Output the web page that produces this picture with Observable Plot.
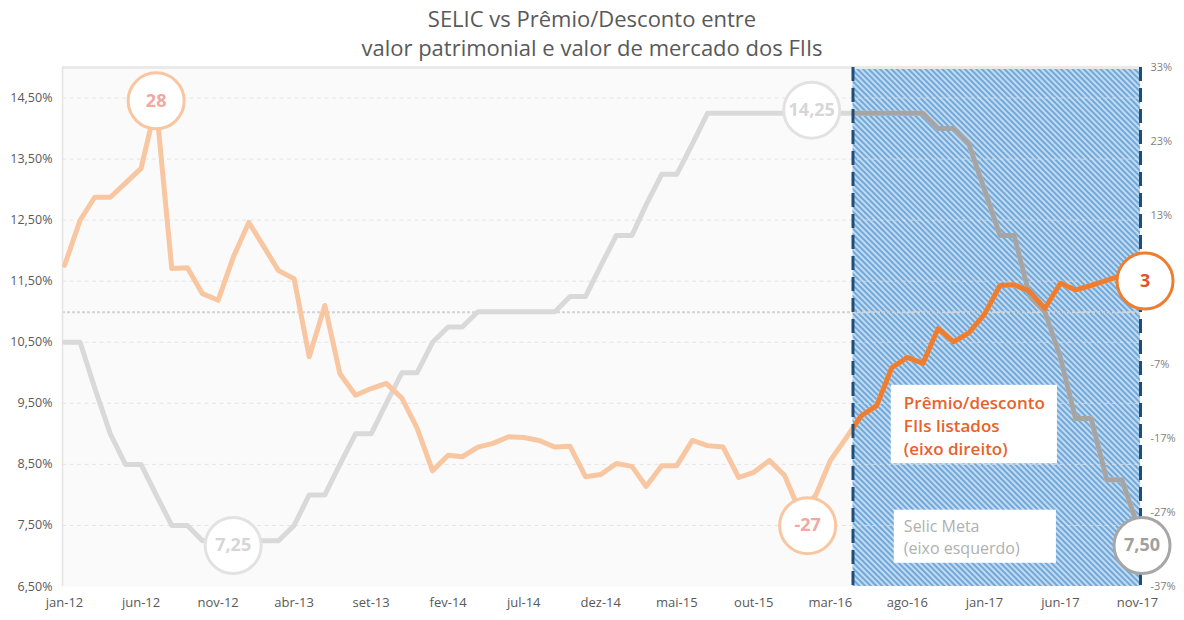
<!DOCTYPE html>
<html><head><meta charset="utf-8">
<script src="https://cdn.jsdelivr.net/npm/d3@7"></script>
<script src="https://cdn.jsdelivr.net/npm/@observablehq/plot@0.6"></script>
<style>
body{margin:0;background:#fff;font-family:"Open Sans",sans-serif;}
#title{height:56px;position:relative;}
#title div{position:absolute;top:4px;left:0;width:1184px;text-align:center;font-size:22px;line-height:29px;color:#595959;}
#chart svg{display:block;}
</style></head><body>
<div id="title"><div>SELIC vs Prêmio/Desconto entre<br>valor patrimonial e valor de mercado dos FIIs</div></div>
<div id="chart"></div>
<script>
// ---- data (monthly, jan-12 .. nov-17) ----
const firstMonth = "2012-01-01";
const selicMeta = [
  10.5, 10.5, 9.75, 9.0, 8.5, 8.5, 8.0, 7.5, 7.5, 7.25, 7.25, 7.25,
  7.25, 7.25, 7.25, 7.5, 8.0, 8.0, 8.5, 9.0, 9.0, 9.5, 10.0, 10.0,
  10.5, 10.75, 10.75, 11.0, 11.0, 11.0, 11.0, 11.0, 11.0, 11.25, 11.25, 11.75,
  12.25, 12.25, 12.75, 13.25, 13.25, 13.75, 14.25, 14.25, 14.25, 14.25, 14.25, 14.25,
  14.25, 14.25, 14.25, 14.25, 14.25, 14.25, 14.25, 14.25, 14.25, 14.0, 14.0, 13.75,
  13.0, 12.25, 12.25, 11.25, 11.0, 10.25, 9.25, 9.25, 8.25, 8.25, 7.5
];
const premioDesconto = [
  6.3, 12.4, 15.5, 15.5, 17.4, 19.4, 28, 5.9, 6.0, 2.5, 1.6, 7.4,
  12.1, 8.7, 5.6, 4.5, -6.0, 0.9, -8.3, -11.2, -10.3, -9.6, -11.6, -15.6,
  -21.4, -19.3, -19.5, -18.2, -17.7, -16.8, -16.9, -17.3, -18.2, -18.1, -22.2, -21.9,
  -20.4, -20.8, -23.5, -20.7, -20.7, -17.3, -18.0, -18.2, -22.3, -21.6, -20.0, -22.0,
  -27, -24.7, -20.0, -17.0, -14.0, -12.6, -7.5, -6.1, -6.9, -2.2, -4.0, -2.8,
  -0.3, 3.6, 3.7, 2.8, 0.5, 3.9, 3.0, 3.6, 4.3, 5.0, 3
];
const leftTicks = [6.5, 7.5, 8.5, 9.5, 10.5, 11.5, 12.5, 13.5, 14.5];
const rightTicks = [-37, -27, -17, -7, 3, 13, 23, 33];
const xTickLabels = ["jan-12","jun-12","nov-12","abr-13","set-13","fev-14","jul-14","dez-14","mai-15","out-15","mar-16","ago-16","jan-17","jun-17","nov-17"];
const highlightStart = "2016-04-15";
// highlighted-value bubbles
const annLabels = ["28", "7,25", "14,25", "-27", "3", "7,50"];
const annDates  = ["2012-07-01", "2012-12-01", "2016-01-24", "2016-01-16", "2017-11-16", "2017-11-10"];
const annValues = [28.5, 7.17, 14.3, -28.8, 4.2, 7.17];
const annAxis   = ["right", "left", "left", "right", "right", "left"];
// legend boxes (data units)
const legendTexts = ["Prêmio/desconto\nFIIs listados\n(eixo direito)", "Selic Meta\n(eixo esquerdo)"];
const legendBoxX1 = ["2016-06-30", "2016-07-06"];
const legendBoxX2 = ["2017-05-26", "2017-05-24"];
const legendBoxY1 = [8.51, 6.88];
const legendBoxY2 = [9.795, 7.75];
const legendTextX = "2016-07-25";
const legendTextY = [9.15, 7.33];

// ---- styles ----
const annStyle = [
  {stroke: "#f8c6a0", fill: "#f2a7a0"},
  {stroke: "#e2e2e2", fill: "#d6d6d6"},
  {stroke: "#e2e2e2", fill: "#d6d6d6"},
  {stroke: "#f8c6a0", fill: "#f2a7a0"},
  {stroke: "#ed7d31", fill: "#e0532b"},
  {stroke: "#a6a6a6", fill: "#a0a0a0"}
];

// ---- build ----
const L = [6.5, 15], R = [-37, 33];
const toLeft = v => L[0] + (v - R[0]) * (L[1] - L[0]) / (R[1] - R[0]);
const fromLeft = v => R[0] + (v - L[0]) * (R[1] - R[0]) / (L[1] - L[0]);
const start = new Date(firstMonth);
const dates = selicMeta.map((_, i) => d3.utcMonth.offset(start, i));
const rows = dates.map((date, i) => ({date, selic: selicMeta[i], premio: toLeft(premioDesconto[i])}));
const xDomain = [d3.utcDay.offset(start, -4), d3.utcDay.offset(dates[dates.length - 1], 6)];
const regionStart = new Date(highlightStart);
const regionEnd = xDomain[1];
const xTicks = xTickLabels.map((_, i) => d3.utcMonth.offset(start, 5 * i));
const xLabelMap = new Map(xTicks.map((d, i) => [+d, xTickLabels[i]]));
const ann = annLabels.map((label, i) => ({label, date: new Date(annDates[i]),
  y: annAxis[i] === "right" ? toLeft(annValues[i]) : annValues[i]}));

const W = 1184, H = 564;
const fmtLeft = d => d.toFixed(2).replace(".", ",") + "%";

const annMarks = ann.flatMap((a, i) => [
  Plot.dot([a], {x: "date", y: "y", r: 28, fill: "white", stroke: annStyle[i].stroke, strokeWidth: 3}),
  Plot.text([a], {x: "date", y: "y", text: "label", fill: annStyle[i].fill, fontSize: 18, fontWeight: "bold"})
]);

const chart = Plot.plot({
  width: W, height: H,
  marginLeft: 62, marginRight: 44, marginTop: 11, marginBottom: 34,
  x: {type: "utc", domain: xDomain},
  y: {domain: L},
  style: {fontFamily: '"Open Sans", sans-serif', background: "transparent", color: "#595959", overflow: "visible"},
  marks: [
    Plot.frame({fill: "#fafafa", stroke: "none"}),
    Plot.rect([0], {x1: () => regionStart, x2: () => regionEnd, y1: () => L[0], y2: () => L[1], fill: "url(#hatch)"}),
    Plot.ruleY(leftTicks.slice(1), {stroke: "#dedede", strokeOpacity: 0.8, strokeDasharray: "4,3.5"}),
    Plot.ruleY([L[1]], {stroke: "#eaeaea", strokeWidth: 3}),
    Plot.ruleY([toLeft(0)], {stroke: "#d4d4d4", strokeWidth: 2, strokeDasharray: "3,2"}),
    Plot.ruleX([xDomain[0]], {stroke: "#e4e4e4", strokeWidth: 1.5}),
    Plot.axisY({ticks: leftTicks, tickSize: 0, tickPadding: 10, tickFormat: fmtLeft, fontSize: 12.5, label: null, color: "#595959"}),
    Plot.axisY({anchor: "right", ticks: rightTicks.map(toLeft), tickSize: 0, tickPadding: 10,
      tickFormat: d => Math.round(fromLeft(d)) + "%", fontSize: 11, label: null, color: "#7f7f7f"}),
    Plot.axisX({ticks: xTicks, tickSize: 0, tickPadding: 11, tickFormat: d => xLabelMap.get(+d), fontSize: 13, label: null, color: "#595959"}),
    // faded full lines
    Plot.line(rows, {x: "date", y: "selic", stroke: "#d9d9d9", strokeWidth: 5}),
    Plot.line(rows, {x: "date", y: "premio", stroke: "#f8c6a0", strokeWidth: 5}),
    // strong lines (clipped to highlighted period afterwards)
    Plot.line(rows, {x: "date", y: "selic", stroke: "#a5a5a5", strokeWidth: 5}),
    Plot.line(rows, {x: "date", y: "premio", stroke: "#ed7d31", strokeWidth: 5}),
    Plot.ruleX([regionStart, regionEnd], {stroke: "#1f4e79", strokeWidth: 3, strokeDasharray: "14,7"}),
    // legend boxes
    Plot.rect([0, 1], {x1: i => new Date(legendBoxX1[i]), x2: i => new Date(legendBoxX2[i]),
      y1: i => legendBoxY1[i], y2: i => legendBoxY2[i], fill: "white"}),
    Plot.text([0], {x: () => new Date(legendTextX), y: () => legendTextY[0], text: () => legendTexts[0],
      textAnchor: "start", lineHeight: 1.33, fontSize: 17, fontWeight: 600, fill: "#e8622c"}),
    Plot.text([1], {x: () => new Date(legendTextX), y: () => legendTextY[1], text: () => legendTexts[1],
      textAnchor: "start", lineHeight: 1.42, fontSize: 16, fill: "#b0b0b0"}),
    ...annMarks
  ]
});

// defs: hatch pattern + clip for highlighted period
const xs = chart.scale("x");
const cx = xs.apply(regionStart);
const svgNS = "http://www.w3.org/2000/svg";
const defs = document.createElementNS(svgNS, "defs");
defs.innerHTML =
  `<pattern id="hatch" patternUnits="userSpaceOnUse" width="4" height="4" patternTransform="rotate(-45)">` +
  `<rect width="4" height="4" fill="#c3dbf1"/>` +
  `<line x1="1" y1="0" x2="1" y2="4" stroke="#5b9bd5" stroke-width="1.6"/></pattern>` +
  `<clipPath id="hlclip"><rect x="${cx}" y="0" width="${W - cx}" height="${H}"/></clipPath>`;
chart.insertBefore(defs, chart.firstChild);
const lineGroups = chart.querySelectorAll('g[aria-label="line"]');
if (lineGroups.length >= 4) {
  lineGroups[2].setAttribute("clip-path", "url(#hlclip)");
  lineGroups[3].setAttribute("clip-path", "url(#hlclip)");
}
document.getElementById("chart").appendChild(chart);
</script></body></html>
